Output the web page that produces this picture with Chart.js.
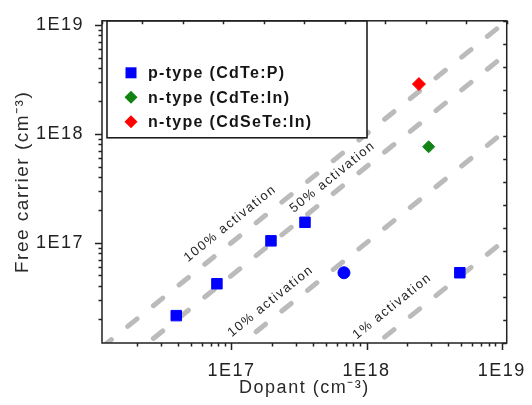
<!DOCTYPE html>
<html>
<head>
<meta charset="utf-8">
<script src="https://cdn.jsdelivr.net/npm/chart.js@4.4.1/dist/chart.umd.min.js"></script>
<style>
  html, body { margin: 0; padding: 0; background: #fff; }
</style>
</head>
<body>
<canvas id="canvas" width="532" height="405"></canvas>
<script>
// samples
var pDopant = [3.9e16, 7.8e16, 1.96e17, 3.5e17, 6.8e17, 4.9e18];
var pCarrier = [2.14e16, 4.2e16, 1.04e17, 1.54e17, 5.3e16, 5.3e16];
var pStyle = ['rect', 'rect', 'rect', 'rect', 'circle', 'rect'];
var pRadius = [7.4, 7.4, 7.4, 7.4, 6, 7.4];

var nInDopant = [2.88e18];
var nInCarrier = [7.6e17];

var nSeDopant = [2.44e18];
var nSeCarrier = [2.86e18];

var seriesNames = ['p-type (CdTe:P)', 'n-type (CdTe:In)', 'n-type (CdSeTe:In)'];
var seriesColors = ['#0000ff', '#128212', '#ff0000'];

// guide lines: carrier = fraction * dopant
var activation = [1, 0.5, 0.1, 0.01];
var activationText = ['100% activation', '50% activation', '10% activation', '1% activation'];
var activationLabelX = [9.8e16, 5.6e17, 1.95e17, 1.55e18];
var activationLabelY = [1.5e17, 4.0e17, 2.9e16, 2.6e16];

var xMin = 1.1e16, xMax = 1.09e19;
var yMin = 1.2e16, yMax = 1.09e19;
var decadeTicks = [1e17, 1e18, 1e19];

var FONT = '"Liberation Sans", Arial, sans-serif';

var datasets = [{
    label: seriesNames[0],
    data: pDopant.map(function(x, i) { return {x: x, y: pCarrier[i]}; }),
    backgroundColor: seriesColors[0],
    borderColor: seriesColors[0],
    pointStyle: pStyle,
    pointRadius: pRadius,
    pointBorderWidth: 1
}, {
    label: seriesNames[1],
    data: nInDopant.map(function(x, i) { return {x: x, y: nInCarrier[i]}; }),
    backgroundColor: seriesColors[1],
    borderColor: seriesColors[1],
    pointStyle: 'rectRot',
    pointRadius: 6,
    pointBorderWidth: 1
}, {
    label: seriesNames[2],
    data: nSeDopant.map(function(x, i) { return {x: x, y: nSeCarrier[i]}; }),
    backgroundColor: seriesColors[2],
    borderColor: seriesColors[2],
    pointStyle: 'rectRot',
    pointRadius: 6.5,
    pointBorderWidth: 1
}];

activation.forEach(function(f) {
    datasets.push({
        label: '',
        data: [{x: xMin, y: f * xMin}, {x: xMax, y: f * xMax}],
        showLine: true,
        borderColor: '#bbbbbb',
        borderWidth: 5,
        borderDash: [12, 21],
        borderCapStyle: 'round',
        pointRadius: 0,
        order: 10
    });
});

function decadeLabel(v) {
    var e = Math.round(Math.log10(v));
    return Math.abs(v - Math.pow(10, e)) < 1e-6 * v ? '1E' + e : '';
}

// every 1..9 x 10^n value inside the scale range
function logTickValues(scale) {
    var out = [];
    var d0 = Math.floor(Math.log10(scale.min)), d1 = Math.ceil(Math.log10(scale.max));
    for (var d = d0; d <= d1; d++) {
        for (var m = 1; m <= 9; m++) {
            var v = m * Math.pow(10, d);
            if (v >= scale.min && v <= scale.max) out.push({v: v, major: m === 1});
        }
    }
    return out;
}

var whiteBg = {
    id: 'whiteBg',
    beforeDraw: function(chart) {
        var ctx = chart.ctx;
        ctx.save();
        ctx.fillStyle = '#fff';
        ctx.fillRect(0, 0, chart.width, chart.height);
        ctx.restore();
        ctx.letterSpacing = '1.5px';
    }
};

var guideLabels = {
    id: 'guideLabels',
    afterDatasetsDraw: function(chart) {
        var ctx = chart.ctx, xs = chart.scales.x, ys = chart.scales.y;
        ctx.save();
        ctx.font = '13px ' + FONT;
        ctx.letterSpacing = '1.5px';
        ctx.fillStyle = '#222';
        ctx.textAlign = 'center';
        ctx.textBaseline = 'middle';
        activation.forEach(function(f, i) {
            var ang = Math.atan2(ys.getPixelForValue(f * xMax) - ys.getPixelForValue(f * xMin),
                                 xs.getPixelForValue(xMax) - xs.getPixelForValue(xMin));
            ctx.save();
            ctx.translate(xs.getPixelForValue(activationLabelX[i]), ys.getPixelForValue(activationLabelY[i]));
            ctx.rotate(ang);
            ctx.fillText(activationText[i], 0, 0);
            ctx.restore();
        });
        ctx.restore();
    }
};

var boxLegend = {
    id: 'boxLegend',
    afterDatasetsDraw: function(chart) {
        var ctx = chart.ctx, a = chart.chartArea;
        var left = a.left + 5, top = a.top, w = 260, h = 117;
        ctx.save();
        ctx.fillStyle = '#fff';
        ctx.fillRect(left, top, w, h);
        ctx.lineWidth = 1.5;
        ctx.strokeStyle = '#111';
        ctx.strokeRect(left, top, w, h);
        ctx.font = 'bold 16px ' + FONT;
        ctx.letterSpacing = '1.3px';
        ctx.textBaseline = 'middle';
        for (var i = 0; i < 3; i++) {
            var ds = chart.data.datasets[i];
            var cy = top + 52 + i * 24.5, cx = left + 24;
            ctx.fillStyle = ds.backgroundColor;
            ctx.beginPath();
            if (i === 0) {
                ctx.rect(cx - 5.5, cy - 5.5, 11, 11);
            } else {
                ctx.moveTo(cx - 6.5, cy);
                ctx.lineTo(cx, cy - 6.5);
                ctx.lineTo(cx + 6.5, cy);
                ctx.lineTo(cx, cy + 6.5);
                ctx.closePath();
            }
            ctx.fill();
            ctx.fillStyle = '#151515';
            ctx.fillText(ds.label, left + 41, cy + 1);
        }
        ctx.restore();
    }
};

var frameTicks = {
    id: 'frameTicks',
    afterDraw: function(chart) {
        var ctx = chart.ctx, a = chart.chartArea;
        var xs = chart.scales.x, ys = chart.scales.y;
        var xt = chart.scales.xTop, yr = chart.scales.yRight;
        ctx.save();
        ctx.strokeStyle = '#222';
        ctx.lineWidth = 1.5;
        ctx.strokeRect(a.left, a.top, a.right - a.left, a.bottom - a.top);
        ctx.beginPath();
        logTickValues(xs).forEach(function(t) {
            var p = Math.round(xs.getPixelForValue(t.v)) + 0.5;
            ctx.moveTo(p, a.bottom);
            ctx.lineTo(p, a.bottom + (t.major ? 7 : 3.5));
        });
        logTickValues(ys).forEach(function(t) {
            var p = Math.round(ys.getPixelForValue(t.v)) + 0.5;
            ctx.moveTo(a.left, p);
            ctx.lineTo(a.left - (t.major ? 7 : 3.5), p);
        });
        xt.ticks.forEach(function(t) {
            var p = Math.round(xt.getPixelForValue(t.value)) + 0.5;
            ctx.moveTo(p, a.top);
            ctx.lineTo(p, a.top + 3.5);
        });
        yr.ticks.forEach(function(t) {
            var p = Math.round(yr.getPixelForValue(t.value)) + 0.5;
            ctx.moveTo(a.right, p);
            ctx.lineTo(a.right - 3.5, p);
        });
        ctx.stroke();
        ctx.restore();
    }
};

var config = {
    type: 'scatter',
    data: { datasets: datasets },
    options: {
        responsive: false,
        animation: false,
        layout: { padding: { top: 11, right: 20, left: 0, bottom: 0 } },
        plugins: {
            legend: { display: false },
            tooltip: { enabled: false }
        },
        scales: {
            x: {
                type: 'logarithmic',
                position: 'bottom',
                min: xMin,
                max: xMax,
                afterFit: function(s) { s.height = 62; },
                afterBuildTicks: function(s) {
                    s.ticks = decadeTicks.map(function(v) { return {value: v}; });
                },
                grid: { display: false },
                border: { display: false },
                ticks: {
                    autoSkip: false,
                    maxRotation: 0,
                    padding: 9,
                    color: '#222',
                    font: { family: FONT, size: 18 },
                    callback: decadeLabel
                },
                title: {
                    display: true,
                    text: 'Dopant (cm⁻³)',
                    color: '#2a2a2a',
                    font: { family: FONT, size: 18 },
                    padding: { top: 0, bottom: 6 }
                }
            },
            y: {
                type: 'logarithmic',
                position: 'left',
                min: yMin,
                max: yMax,
                afterFit: function(s) { s.width = 102; },
                afterBuildTicks: function(s) {
                    s.ticks = decadeTicks.map(function(v) { return {value: v}; });
                },
                grid: { display: false },
                border: { display: false },
                ticks: {
                    autoSkip: false,
                    padding: 10,
                    color: '#222',
                    font: { family: FONT, size: 18 },
                    callback: decadeLabel
                },
                title: {
                    display: true,
                    text: 'Free carrier (cm⁻³)',
                    color: '#2a2a2a',
                    font: { family: FONT, size: 19 },
                    padding: { top: 11, bottom: 0 }
                }
            },
            xTop: {
                type: 'linear',
                position: 'top',
                display: false,
                min: 0,
                max: 10,
                ticks: { stepSize: 1 }
            },
            yRight: {
                type: 'linear',
                position: 'right',
                display: false,
                min: 0,
                max: 14,
                ticks: { stepSize: 1 }
            }
        }
    },
    plugins: [whiteBg, guideLabels, boxLegend, frameTicks]
};

window.onload = function() {
    var ctx = document.getElementById('canvas').getContext('2d');
    window.myChart = new Chart(ctx, config);
};
</script>
</body>
</html>
